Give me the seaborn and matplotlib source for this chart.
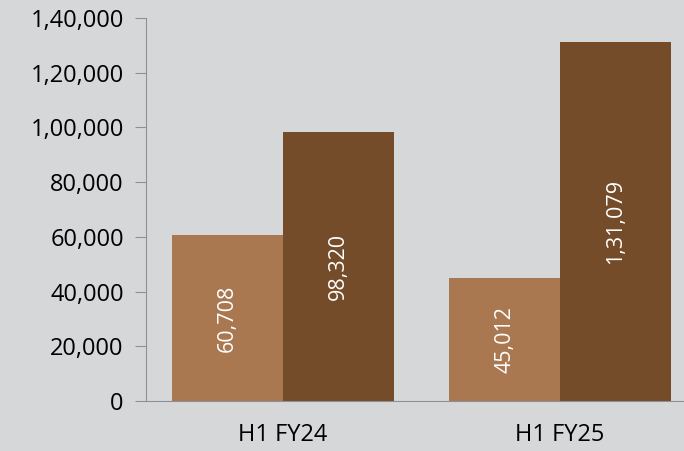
import pandas as pd
import numpy as np
import matplotlib.pyplot as plt
import seaborn as sns
from matplotlib.ticker import FuncFormatter

periods = ["H1 FY24", "H1 FY25"]
series = ["A", "B"]
values_a = [60708, 45012]
values_b = [98320, 131079]
yticks = [0, 20000, 40000, 60000, 80000, 100000, 120000, 140000]

bg = "#d6d7d9"
colors = ["#a97750", "#754c2a"]

sns.set_style("white")
plt.rcParams["font.family"] = ["Open Sans", "DejaVu Sans"]


def indian(v, pos=None):
    s = str(int(round(v)))
    if len(s) <= 3:
        return s
    head, tail = s[:-3], s[-3:]
    parts = []
    while len(head) > 2:
        parts.insert(0, head[-2:])
        head = head[:-2]
    if head:
        parts.insert(0, head)
    return ",".join(parts + [tail])


df = pd.DataFrame({
    "Period": periods * 2,
    "Series": [series[0]] * 2 + [series[1]] * 2,
    "Value": values_a + values_b,
})

fig = plt.figure(figsize=(6.84, 4.51), dpi=100, facecolor=bg)
ax = fig.add_axes([146 / 684, 50 / 451, 538 / 684, 383 / 451])
ax.set_facecolor(bg)

sns.barplot(data=df, x="Period", y="Value", hue="Series", palette=colors,
            width=0.8, saturation=1, legend=False, linewidth=0, ax=ax)

# value labels, rotated, in the middle of each bar
for container in ax.containers:
    for bar in container:
        h = bar.get_height()
        ax.text(bar.get_x() + bar.get_width() / 2, h / 2, indian(h),
                rotation=90, ha="center", va="center", color="white", fontsize=15.5)

ax.set_ylim(0, 140000)
ax.set_xlim(-0.495, 1.448)
ax.set_yticks(yticks)
ax.yaxis.set_major_formatter(FuncFormatter(indian))
ax.set_xlabel("")
ax.set_ylabel("")

for side in ["top", "right"]:
    ax.spines[side].set_visible(False)
ax.spines["left"].set_color("#8e9099")
ax.spines["bottom"].set_color("#8e9099")
ax.tick_params(axis="y", left=True, length=8, color="#8e9099", labelsize=17,
               labelcolor="black", pad=8)
ax.tick_params(axis="x", bottom=False, labelsize=17, labelcolor="black", pad=12)

fig.savefig("out.png", dpi=100, facecolor=bg)
